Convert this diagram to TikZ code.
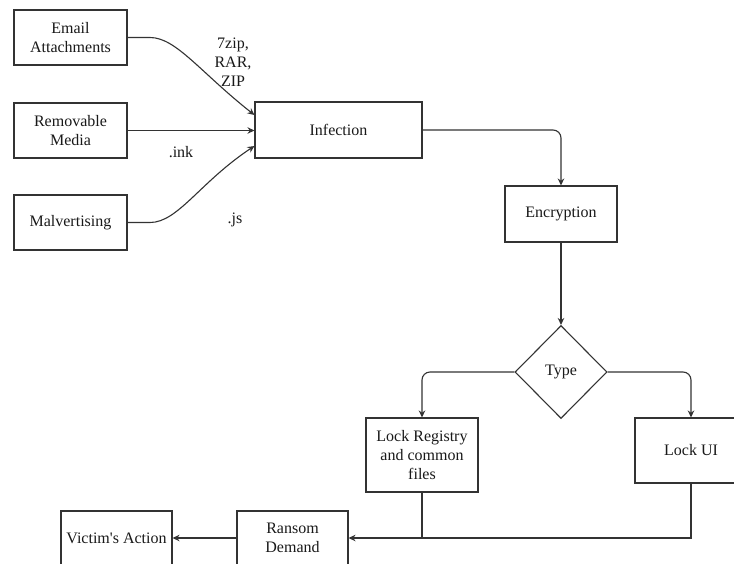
\documentclass[tikz,border=0pt]{standalone}
\usepackage{fontspec}
\setmainfont{Liberation Serif}
\usetikzlibrary{shapes.geometric,arrows.meta}
\begin{document}
\begin{tikzpicture}[x=1pt,y=-1pt,
  txt/.style={font=\fontsize{16}{19}\selectfont, text=black!90},
  box/.style={txt, draw=black!80, line width=1.1pt, inner sep=1pt, align=center},
  lbl/.style={txt, align=center, inner sep=0pt},
  arr/.style={draw=black!80, line width=1.1pt, -{Stealth[length=7pt,width=6.5pt]}},
  ln/.style={draw=black!80, line width=1.1pt}]
\useasboundingbox (0,0) rectangle (734,563);
\clip (0,0) rectangle (734,563);
\fill[white] (0,0) rectangle (734,563);

% source boxes
\node[box, minimum width=113pt, minimum height=55pt] (email) at (70.5,37.5) {Email\\Attachments};
\node[box, minimum width=113pt, minimum height=55pt] (media) at (70.5,130.5) {Removable\\Media};
\node[box, minimum width=113pt, minimum height=55pt] (malv) at (70.5,222.5) {Malvertising};

% main flow
\node[box, minimum width=167pt, minimum height=56pt] (inf) at (338.5,130) {Infection};
\node[box, minimum width=112pt, minimum height=56pt] (enc) at (561,214) {Encryption};
\node[box, diamond, aspect=1, minimum width=92pt, minimum height=93pt, inner sep=0pt] (type) at (561,372) {Type};
\node[box, minimum width=112pt, minimum height=74pt] (reg) at (422,455) {Lock Registry\\and common\\files};
\node[box, minimum width=112pt, minimum height=65pt] (ui) at (691,450.5) {Lock UI};
\node[box, minimum width=111pt, minimum height=54pt] (ransom) at (292.5,538) {Ransom\\Demand};
\node[box, minimum width=111pt, minimum height=54pt] (victim) at (116.5,538) {Victim\textquotesingle s Action};

% labels
\node[lbl] (l1) at (233,62) {7zip,\\RAR,\\ZIP};
\node[lbl] (l2) at (181,152) {.ink};
\node[lbl] (l3) at (235,220) {.js};

% coordinates for edge ends
\coordinate (e1) at (inf.west |- 0,115);
\coordinate (e3) at (inf.west |- 0,146);
\coordinate (j) at (reg.south |- ransom.east);

% connectors
\draw[arr] (email.east) -- (150,37.5) .. controls (176,37.5) and (200,72) .. (e1);
\draw[arr] (media.east) -- (inf.west |- media.east);
\draw[arr] (malv.east) -- (150,222.5) .. controls (178,222.5) and (200,182) .. (e3);
\draw[arr, rounded corners=8pt] (inf.east) -| (enc.north);
\draw[arr] (enc.south) -- (type.north);
\draw[arr, rounded corners=8pt] (type.west) -| (reg.north);
\draw[arr, rounded corners=8pt] (type.east) -| (ui.north);
\draw[ln] (reg.south) -- (j);
\draw[arr] (ui.south) |- (ransom.east);
\draw[arr] (ransom.west) -- (victim.east);
\end{tikzpicture}
\end{document}
